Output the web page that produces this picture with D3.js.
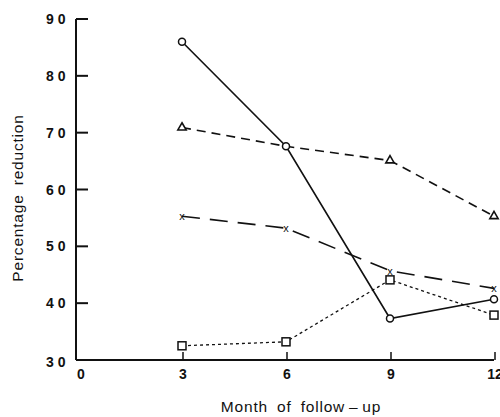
<!DOCTYPE html>
<head>
	<meta charset="utf-8">
	<title>Percentage reduction</title>
	<script src="https://d3js.org/d3.v7.min.js"></script>
	<style>
		body { margin: 0; background: #fff; }
		text { font-family: "Liberation Sans", Arial, sans-serif; fill: #111; }
		.tick-lbl { font-size: 14px; font-weight: bold; letter-spacing: 4px; }
		.titulo { font-size: 15.5px; letter-spacing: 0.8px; word-spacing: 4px; }
		.serie { fill: none; stroke: #111; stroke-width: 1.6px; }
	</style>
</head>
<body>
	<div id="chart"></div>
	<script>
		// valores
		var meses = [3, 6, 9, 12];
		var circulos = [86.0, 67.6, 37.3, 40.7];
		var triangulos = [70.9, 67.6, 65.1, 55.3];
		var cruzes = [55.3, 53.2, 45.7, 42.6];
		var quadrados = [32.5, 33.2, 44.1, 37.9];
		var yTicks = [30, 40, 50, 60, 70, 80, 90];
		var xTicks = [0, 3, 6, 9, 12];

		var width = 500,
			height = 417;

		var svg = d3.select("#chart")
			.append("svg")
			.attr("width", width)
			.attr("height", height);

		var x = d3.scaleLinear().domain([0, 12]).range([78, 494]);
		var y = d3.scaleLinear().domain([30, 90]).range([360, 19]);

		// eixos
		svg.append("line")
			.attr("x1", x(0) - 2).attr("x2", x(0) - 2)
			.attr("y1", y(90)).attr("y2", y(30))
			.attr("stroke", "#111").attr("stroke-width", 2);
		svg.append("line")
			.attr("x1", x(0) - 2).attr("x2", x(12))
			.attr("y1", y(30)).attr("y2", y(30))
			.attr("stroke", "#111").attr("stroke-width", 2);

		yTicks.forEach(function(d) {
			if (d > 30) {
				svg.append("line")
					.attr("x1", x(0) - 2).attr("x2", x(0) + 10)
					.attr("y1", y(d)).attr("y2", y(d))
					.attr("stroke", "#111").attr("stroke-width", 2);
			}
			svg.append("text")
				.attr("class", "tick-lbl")
				.attr("x", 46)
				.attr("y", y(d) + (d == 30 ? 7 : 5))
				.text(d);
		});

		xTicks.forEach(function(d) {
			if (d > 0) {
				svg.append("line")
					.attr("x1", x(d) + 1).attr("x2", x(d) + 1)
					.attr("y1", y(30)).attr("y2", y(30) - 8)
					.attr("stroke", "#111").attr("stroke-width", 1.5);
			}
			svg.append("text")
				.attr("class", "tick-lbl")
				.attr("x", d == 0 ? x(d) + 3 : x(d) + 1)
				.attr("y", 379)
				.attr("text-anchor", "middle")
				.style("letter-spacing", "0px")
				.text(d);
		});

		svg.append("text")
			.attr("class", "titulo")
			.attr("x", 301).attr("y", 412)
			.attr("text-anchor", "middle")
			.text("Month of follow\u2009\u2013\u2009up");

		svg.append("text")
			.attr("class", "titulo")
			.attr("transform", "translate(23,198) rotate(-90)")
			.attr("text-anchor", "middle")
			.text("Percentage reduction");

		// series
		function pontos(vals) {
			return meses.map(function(m, i) { return [m, vals[i]]; });
		}
		var linha = d3.line().x(function(d) { return x(d[0]); }).y(function(d) { return y(d[1]); });

		svg.append("path").attr("class", "serie").attr("d", linha(pontos(triangulos)))
			.attr("stroke-dasharray", "9,6");
		svg.append("path").attr("class", "serie").attr("d", linha(pontos(cruzes)))
			.attr("stroke-dasharray", "18,10");
		svg.append("path").attr("class", "serie").attr("d", linha(pontos(quadrados)))
			.attr("stroke-dasharray", "3,3").style("stroke-width", "1.3px");
		svg.append("path").attr("class", "serie").attr("d", linha(pontos(circulos)));

		// marcadores
		svg.selectAll(".mc").data(pontos(circulos)).enter().append("circle")
			.attr("cx", function(d) { return x(d[0]); })
			.attr("cy", function(d) { return y(d[1]); })
			.attr("r", 3.5)
			.attr("fill", "#fff").attr("stroke", "#111").attr("stroke-width", 1.5);

		svg.selectAll(".mt").data(pontos(triangulos).filter(function(d) { return d[0] != 6; })).enter().append("path")
			.attr("d", d3.symbol().type(d3.symbolTriangle).size(30))
			.attr("transform", function(d) { return "translate(" + x(d[0]) + "," + y(d[1]) + ")"; })
			.attr("fill", "#fff").attr("stroke", "#111").attr("stroke-width", 1.6);

		svg.selectAll(".mq").data(pontos(quadrados)).enter().append("rect")
			.attr("x", function(d) { return x(d[0]) - 4; })
			.attr("y", function(d) { return y(d[1]) - 4; })
			.attr("width", 8).attr("height", 8)
			.attr("fill", "#fff").attr("stroke", "#111").attr("stroke-width", 1.5);

		svg.selectAll(".mx").data(pontos(cruzes)).enter().append("text")
			.attr("x", function(d) { return x(d[0]); })
			.attr("y", function(d) { return y(d[1]) + 4; })
			.attr("text-anchor", "middle")
			.style("font-size", "11px")
			.text("x");
	</script>
</body>
